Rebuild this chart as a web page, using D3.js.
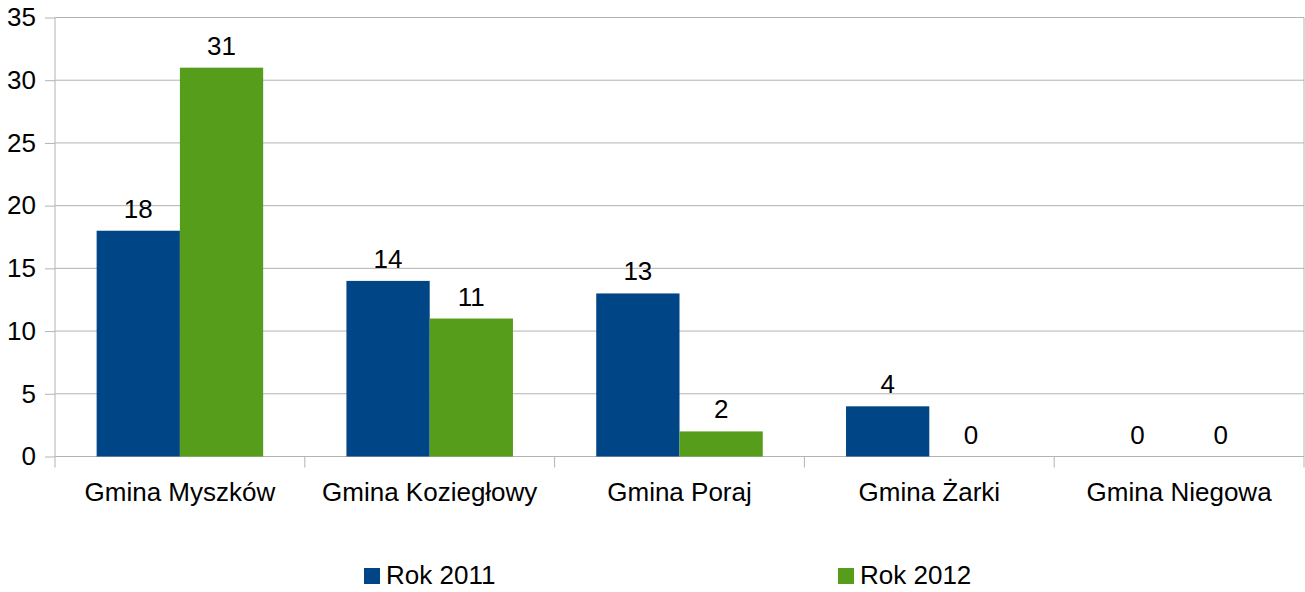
<!DOCTYPE html>
<html><head><meta charset="utf-8">
<script src="https://cdn.jsdelivr.net/npm/d3@7"></script>
<style>html,body{margin:0;padding:0;background:#fff;}svg{display:block;}</style>
</head><body>
<svg id="c" width="1305" height="592"></svg>
<script>
const categories = ["Gmina Myszków","Gmina Koziegłowy","Gmina Poraj","Gmina Żarki","Gmina Niegowa"];
const seriesNames = ["Rok 2011","Rok 2012"];
const rok2011 = [18,14,13,4,0];
const rok2012 = [31,11,2,0,0];
const yTicks = [0,5,10,15,20,25,30,35];
const colors = ["#004586","#579d1c"];

const svg = d3.select("#c");
const font = "Liberation Sans, Arial, sans-serif";
const FS = 26;
const L = 55, R = 1304, T = 17.5, B = 456.5;
const x = d3.scaleBand().domain(categories).range([L,R]).paddingInner(0).paddingOuter(0);
const x1 = d3.scaleBand().domain(seriesNames).range([0,x.bandwidth()]).paddingInner(0).paddingOuter(0.5);
const y = d3.scaleLinear().domain([0,35]).range([B,T]);

// gridlines
svg.append("g").selectAll("line").data(yTicks).join("line")
  .attr("x1",L).attr("x2",R).attr("y1",d=>y(d)).attr("y2",d=>y(d))
  .attr("stroke","#b3b3b3").attr("stroke-width",1);
// right border
svg.append("line").attr("x1",R).attr("x2",R).attr("y1",T).attr("y2",B).attr("stroke","#b3b3b3");

// y axis
const ya = svg.append("g").attr("transform",`translate(${L},0)`)
  .call(d3.axisLeft(y).tickValues(yTicks).tickSize(10).tickPadding(9));
ya.select(".domain").attr("stroke","#b3b3b3").attr("d",`M0,${T}V${B}`);
ya.selectAll(".tick line").attr("stroke","#b3b3b3");
ya.selectAll(".tick text").attr("font-family",font).attr("font-size",FS).attr("fill","#000");

// x axis
const xa = svg.append("g").attr("transform",`translate(0,${B})`)
  .call(d3.axisBottom(x).tickSize(0).tickPadding(26));
xa.select(".domain").attr("stroke","#b3b3b3").attr("d",`M${L},0H${R}`);
xa.selectAll(".tick text").attr("font-family",font).attr("font-size",FS).attr("fill","#000");
const bounds = categories.map((c,i)=>x(c)).concat([R]);
xa.append("g").selectAll("line").data(bounds).join("line")
  .attr("x1",d=>d).attr("x2",d=>d).attr("y1",0).attr("y2",11).attr("stroke","#b3b3b3");

// bars
const data = [rok2011, rok2012];
const groups = svg.append("g").selectAll("g").data(seriesNames).join("g")
  .attr("fill",(d,i)=>colors[i]);
groups.each(function(s,si){
  const g = d3.select(this);
  const vals = data[si];
  g.selectAll("rect").data(categories).join("rect")
    .attr("x",c=>x(c)+x1(s)).attr("width",x1.bandwidth())
    .attr("y",(c,i)=>y(vals[i])).attr("height",(c,i)=>B-y(vals[i]));
  g.selectAll("text").data(categories).join("text")
    .attr("x",c=>x(c)+x1(s)+x1.bandwidth()/2)
    .attr("y",(c,i)=>y(vals[i])-13)
    .attr("text-anchor","middle").attr("font-family",font).attr("font-size",FS).attr("fill","#000")
    .text((c,i)=>vals[i]);
});

// legend
const legX = [364, 838];
const leg = svg.append("g").selectAll("g").data(seriesNames).join("g")
  .attr("transform",(d,i)=>`translate(${legX[i]},568)`);
leg.append("rect").attr("width",16).attr("height",16).attr("fill",(d,i)=>colors[i]);
leg.append("text").attr("x",22).attr("y",16).attr("font-family",font).attr("font-size",FS).attr("fill","#000").text(d=>d);
</script>
</body></html>
